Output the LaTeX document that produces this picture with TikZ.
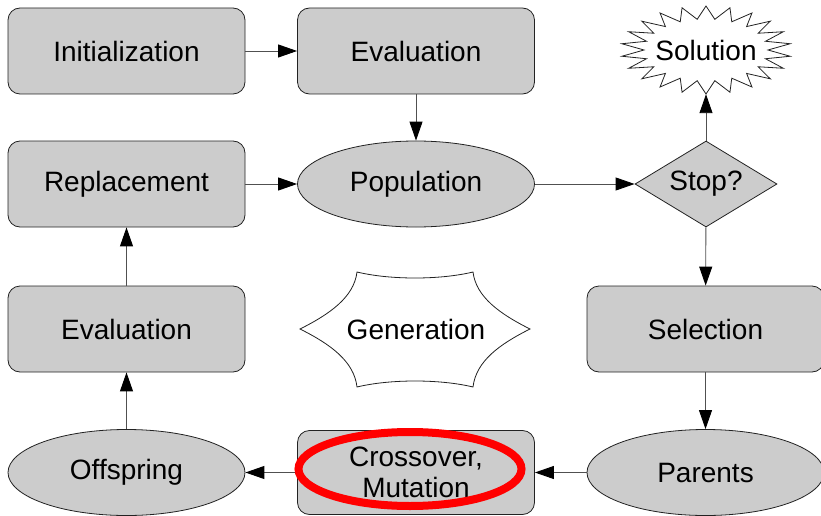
\documentclass[tikz,border=0pt]{standalone}
\usepackage{fontspec}
\setmainfont{Liberation Sans}
\usetikzlibrary{arrows.meta,shapes.geometric}
\definecolor{boxgray}{HTML}{CCCCCC}
\definecolor{edgegray}{HTML}{222222}
\definecolor{linkgray}{HTML}{505050}
\begin{document}
\begin{tikzpicture}[x=1pt,y=-1pt,
  every node/.style={font=\fontsize{28}{32}\selectfont, inner sep=0pt, align=center},
  box/.style={draw=edgegray, line width=0.8pt, fill=boxgray, rounded corners=12pt,
              minimum width=237pt, minimum height=86pt},
  oval/.style={ellipse, draw=edgegray, line width=0.8pt, fill=boxgray,
               minimum width=237pt, minimum height=86pt},
  decision/.style={diamond, draw=edgegray, line width=0.8pt, fill=boxgray,
                   minimum width=142pt, minimum height=86pt, aspect=1.65},
  outline/.style={draw=edgegray, line width=0.8pt, fill=white},
  link/.style={draw=linkgray, line width=0.9pt,
               -{Triangle[length=19pt,width=13pt,color=black]}}]

\useasboundingbox (0,0) rectangle (821,516);

% outline of the starburst around the final result
\draw[outline] plot[samples at={0,...,43}, variable=\i]
  ({706+((mod(\i,2)==0) ? 85 : 62)*cos(90+\i*360/44)},
   {50-((mod(\i,2)==0) ? 44 : 31)*sin(90+\i*360/44)}) -- cycle;

% outline of the central burst
\draw[outline] (300,329) .. controls (330,314) and (354,297) .. (357,272)
  .. controls (390,280) and (440,280) .. (473,272)
  .. controls (476,297) and (500,314) .. (530,329)
  .. controls (500,344) and (476,361) .. (473,387)
  .. controls (440,379) and (390,379) .. (357,387)
  .. controls (354,361) and (330,344) .. (300,329) -- cycle;

% nodes
\node[box]  (init)  at (126.5,51)  {Initialization};
\node[box]  (evalA) at (416,51)    {Evaluation};
\node[minimum width=170pt, minimum height=88pt] (sol) at (706,50) {Solution};
\node[box]  (repl)  at (126.5,184) {Replacement};
\node[oval] (pop)   at (416,184)   {Population};
\node[decision] (stop) at (706,184) {Stop?};
\node[box]  (evalB) at (126.5,329) {Evaluation};
\node (gen) at (416,329) {Generation};
\node[box]  (sel)   at (705.5,329) {Selection};
\node[oval] (off)   at (126.5,472.5) {Offspring};
\node[box, minimum height=84pt] (cross) at (416,472.5) {Crossover,\\[-0.5pt]Mutation};
\node[oval] (par)   at (705.5,472.5) {Parents};

% connectors
\draw[link] (init) -- (evalA);
\draw[link] (evalA) -- (pop);
\draw[link] (repl) -- (pop);
\draw[link] (pop) -- (stop);
\draw[link] (stop) -- (sol);
\draw[link] (stop) -- (sel);
\draw[link] (sel) -- (par);
\draw[link] (par) -- (cross);
\draw[link] (cross) -- (off);
\draw[link] (off) -- (evalB);
\draw[link] (evalB) -- (repl);

% red highlight ring
\draw[red, line width=8pt] (410,469) ellipse [x radius=111.5pt, y radius=37pt];
\end{tikzpicture}
\end{document}
